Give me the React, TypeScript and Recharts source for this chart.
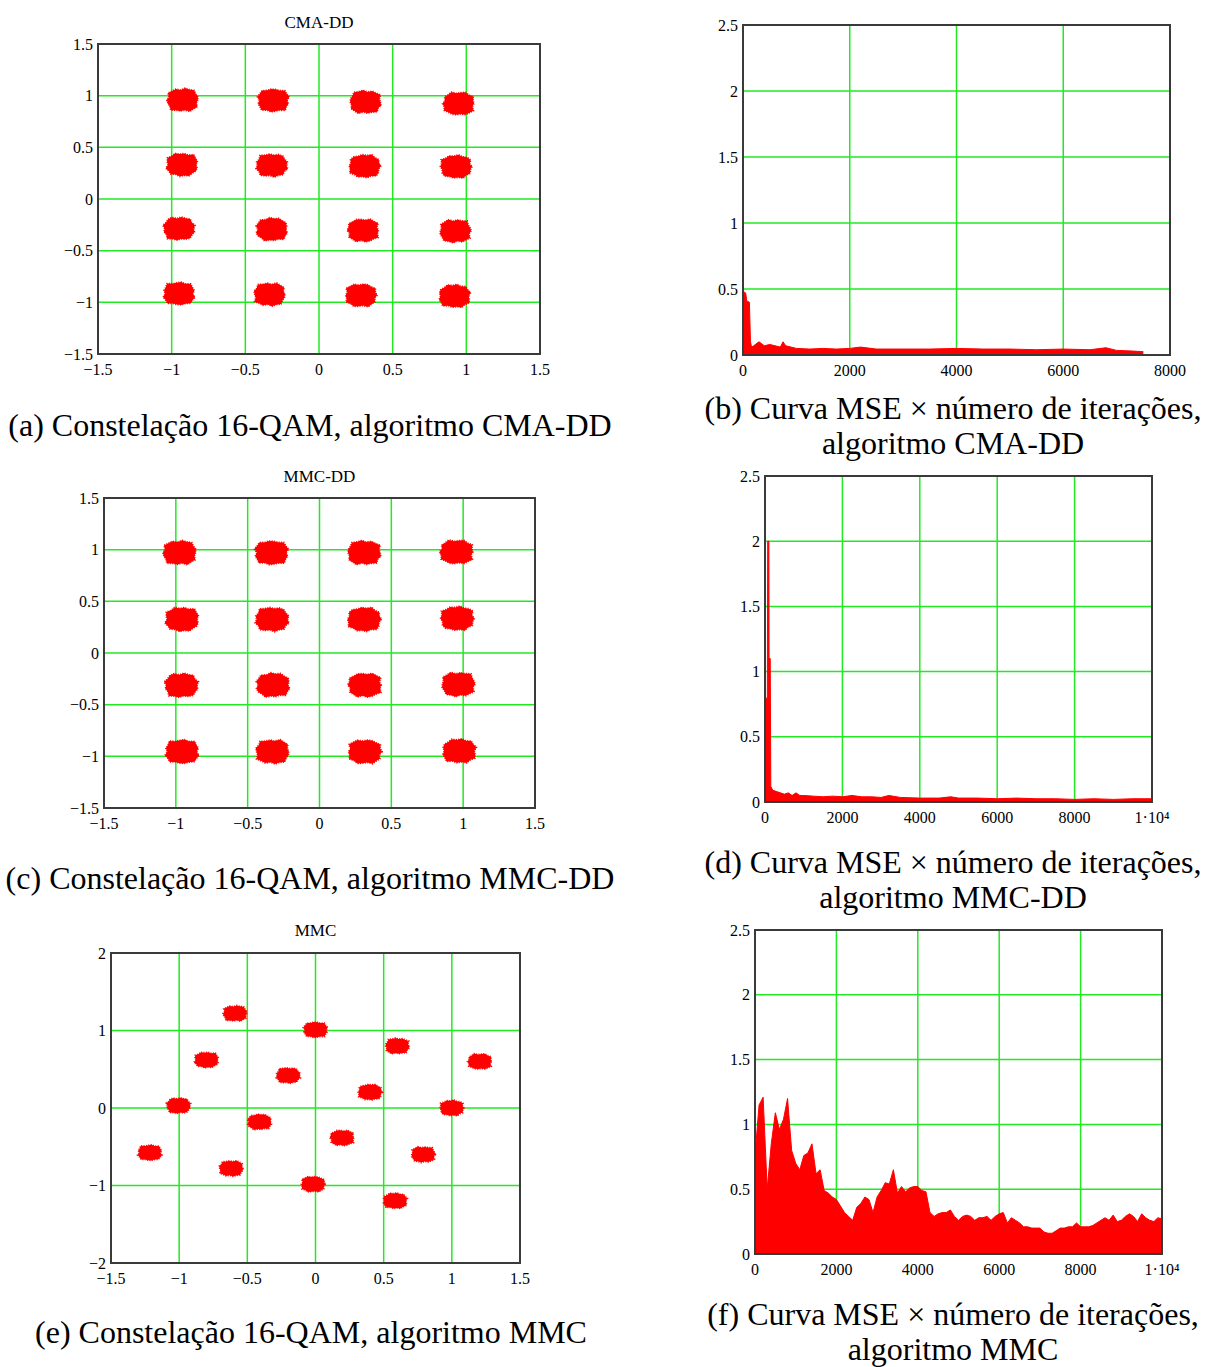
import React from "react";
import {
  Area,
  AreaChart,
  CartesianGrid,
  ReferenceArea,
  Scatter,
  ScatterChart,
  XAxis,
  YAxis,
} from "recharts";

const GREEN = "#22ea22";
const RED = "#ff0000";
const FRAME = "#3a3a3a";
const SERIF = '"Liberation Serif", "Times New Roman", serif';

// (a) CMA-DD constellation, cluster centres (I / Q)
const cmaDdI = [-0.925, -0.31, 0.315, 0.948, -0.93, -0.32, 0.31, 0.93, -0.95, -0.32, 0.3, 0.925, -0.95, -0.335, 0.285, 0.92];
const cmaDdQ = [0.958, 0.955, 0.939, 0.923, 0.332, 0.326, 0.319, 0.313, -0.287, -0.294, -0.303, -0.31, -0.916, -0.923, -0.932, -0.939];

// (c) MMC-DD constellation
const mmcDdI = [-0.973, -0.334, 0.311, 0.954, -0.957, -0.33, 0.311, 0.959, -0.961, -0.323, 0.316, 0.966, -0.957, -0.327, 0.316, 0.973];
const mmcDdQ = [0.971, 0.971, 0.971, 0.977, 0.326, 0.326, 0.326, 0.335, -0.313, -0.31, -0.31, -0.303, -0.955, -0.955, -0.955, -0.948];

// (e) MMC constellation (rotated)
const mmcI = [-0.59, 0.0, 0.6, 1.205, -0.8, -0.2, 0.4, 1.0, -1.005, -0.41, 0.195, 0.79, -1.215, -0.618, -0.017, 0.584];
const mmcQ = [1.22, 1.01, 0.8, 0.6, 0.62, 0.42, 0.205, 0.0, 0.03, -0.18, -0.385, -0.6, -0.577, -0.78, -0.983, -1.197];

const constTicks = [-1.5, -1, -0.5, 0, 0.5, 1, 1.5];
const constGrid = [-1, -0.5, 0, 0.5, 1];
const mmcYTicks = [-2, -1, 0, 1, 2];
const mmcYGrid = [-1, 0, 1];

// (b) MSE, CMA-DD
const cmaDdIter = [0, 10, 50, 70, 120, 140, 160, 200, 300, 400, 500, 600, 700, 750, 800, 900, 1000, 1250, 1500, 1750, 2000, 2200, 2500, 3000, 3500, 4000, 4500, 5000, 5500, 6000, 6500, 6800, 7000, 7300, 7500];
const cmaDdMse = [0.77, 0.48, 0.47, 0.41, 0.4, 0.1, 0.06, 0.07, 0.1, 0.07, 0.08, 0.07, 0.06, 0.1, 0.07, 0.06, 0.05, 0.045, 0.05, 0.045, 0.05, 0.06, 0.045, 0.045, 0.045, 0.05, 0.045, 0.045, 0.04, 0.045, 0.04, 0.055, 0.035, 0.03, 0.025];

// (d) MSE, MMC-DD
const mmcDdIter = [0, 60, 70, 100, 105, 135, 150, 200, 300, 400, 500, 600, 700, 800, 900, 1000, 1250, 1500, 1750, 2000, 2250, 2500, 2750, 3000, 3200, 3500, 4000, 4500, 4800, 5000, 5500, 6000, 6500, 7000, 7500, 8000, 8500, 9000, 9500, 10000];
const mmcDdMse = [0.79, 0.8, 2.0, 2.0, 1.1, 1.1, 0.12, 0.09, 0.08, 0.07, 0.06, 0.07, 0.05, 0.07, 0.05, 0.05, 0.045, 0.04, 0.045, 0.04, 0.05, 0.04, 0.04, 0.035, 0.05, 0.035, 0.03, 0.03, 0.04, 0.03, 0.03, 0.025, 0.03, 0.025, 0.025, 0.02, 0.025, 0.02, 0.025, 0.025];

// (f) MSE, MMC — one reading every 100 iterations
const MMC_STEP = 100;
const mmcMse = [
  0.76, 1.15, 1.21, 0.5, 0.85, 1.09, 0.96, 1.04, 1.2, 0.8,
  0.7, 0.65, 0.76, 0.78, 0.85, 0.62, 0.65, 0.49, 0.47, 0.44,
  0.42, 0.37, 0.32, 0.29, 0.26, 0.36, 0.39, 0.44, 0.42, 0.32,
  0.44, 0.49, 0.55, 0.54, 0.65, 0.47, 0.52, 0.48, 0.51, 0.52,
  0.52, 0.49, 0.48, 0.32, 0.29, 0.31, 0.32, 0.32, 0.34, 0.29,
  0.26, 0.29, 0.3, 0.29, 0.26, 0.28, 0.28, 0.29, 0.26, 0.29,
  0.31, 0.32, 0.24, 0.28, 0.26, 0.24, 0.21, 0.21, 0.2, 0.2,
  0.2, 0.17, 0.16, 0.16, 0.18, 0.2, 0.2, 0.21, 0.21, 0.24,
  0.21, 0.21, 0.21, 0.22, 0.24, 0.26, 0.28, 0.26, 0.3, 0.25,
  0.26, 0.29, 0.31, 0.29, 0.25, 0.31, 0.28, 0.26, 0.25, 0.28,
  0.27,
];

const mseYTicks = [0, 0.5, 1, 1.5, 2, 2.5];
const mseYGrid = [0.5, 1, 1.5, 2];
const iterTicks8k = [0, 2000, 4000, 6000, 8000];
const iterTicks10k = [0, 2000, 4000, 6000, 8000, 10000];

// jagged outline for the noisy symbol clouds
const JAG = [1, 0.93, 1.05, 0.97, 1.08, 0.92, 1.02, 0.96, 1.09, 0.94, 1.0, 1.06, 0.93, 1.07, 0.97, 1.03, 0.92, 1.08, 0.98, 1.04, 0.94, 1.02];

const makeBlob = (rx: number, ry: number) => (props: any) => {
  const { cx, cy, payload } = props;
  const k = payload?.k ?? 0;
  const n = JAG.length;
  const pts: string[] = [];
  for (let i = 0; i < n; i++) {
    const a = (i / n) * Math.PI * 2;
    const r = JAG[(i + k * 5) % n];
    // squarer cloud than an ellipse
    const c = Math.cos(a);
    const s = Math.sin(a);
    const sq = 1 / Math.pow(Math.pow(Math.abs(c), 3) + Math.pow(Math.abs(s), 3), 1 / 3);
    pts.push(`${(cx + c * rx * r * sq).toFixed(1)},${(cy + s * ry * r * sq).toFixed(1)}`);
  }
  return (
    <path
      d={`M${pts.join("L")}Z`}
      fill={RED}
      stroke={RED}
      strokeWidth={1.6}
      strokeDasharray="1 1.4"
    />
  );
};

const fmtTick = (v: number) => {
  if (v === 10000) return "1·10⁴";
  return String(v).replace("-", "−");
};

const PAD_L = 60;
const PAD_T = 30;
const PAD_R = 30;
const PAD_B = 32;

type Box = { x0: number; y0: number; x1: number; y1: number };

const tickStyle = { fontSize: 16, fill: "#000", fontFamily: SERIF };

function ConstellationPanel({
  box,
  title,
  titleY,
  xs,
  ys,
  yTicks,
  yGrid,
  rx,
  ry,
  rightGreen,
}: {
  box: Box;
  title: string;
  titleY: number;
  xs: number[];
  ys: number[];
  yTicks: number[];
  yGrid: number[];
  rx: number;
  ry: number;
  rightGreen?: boolean;
}) {
  const data = xs.map((x, i) => ({ x, y: ys[i], k: i }));
  const w = box.x1 - box.x0 + PAD_L + PAD_R;
  const h = box.y1 - box.y0 + PAD_T + PAD_B;
  const yMin = yTicks[0];
  const yMax = yTicks[yTicks.length - 1];
  return (
    <>
      <div
        style={{
          position: "absolute",
          left: box.x0,
          width: box.x1 - box.x0,
          top: titleY - 10,
          height: 20,
          lineHeight: "20px",
          textAlign: "center",
          fontFamily: SERIF,
          fontSize: 17,
        }}
      >
        {title}
      </div>
      <div style={{ position: "absolute", left: box.x0 - PAD_L, top: box.y0 - PAD_T }}>
        <ScatterChart
          width={w}
          height={h}
          margin={{ top: PAD_T, right: PAD_R, bottom: 0, left: 0 }}
        >
          <CartesianGrid
            stroke={GREEN}
            strokeWidth={1.5}
            verticalValues={rightGreen ? [...constGrid, 1.5] : constGrid}
            horizontalValues={yGrid}
          />
          <XAxis
            type="number"
            dataKey="x"
            domain={[-1.5, 1.5]}
            ticks={constTicks}
            interval={0}
            height={PAD_B}
            tickSize={0}
            tickMargin={10}
            tickLine={false}
            axisLine={false}
            tick={tickStyle}
            tickFormatter={fmtTick}
          />
          <YAxis
            type="number"
            dataKey="y"
            domain={[yMin, yMax]}
            ticks={yTicks}
            interval={0}
            width={PAD_L}
            tickSize={0}
            tickMargin={5}
            tickLine={false}
            axisLine={false}
            tick={tickStyle}
            tickFormatter={fmtTick}
          />
          <Scatter data={data} shape={makeBlob(rx, ry)} isAnimationActive={false} />
          <ReferenceArea
            x1={-1.5}
            x2={1.5}
            y1={yMin}
            y2={yMax}
            fill="none"
            fillOpacity={0}
            stroke={FRAME}
            strokeWidth={2}
            ifOverflow="visible"
          />
        </ScatterChart>
      </div>
    </>
  );
}

function MsePanel({
  box,
  iters,
  mse,
  xMax,
  xTicks,
  xGrid,
}: {
  box: Box;
  iters: number[];
  mse: number[];
  xMax: number;
  xTicks: number[];
  xGrid: number[];
}) {
  const data = iters.map((iter, i) => ({ iter, mse: mse[i] }));
  const w = box.x1 - box.x0 + PAD_L + PAD_R;
  const h = box.y1 - box.y0 + PAD_T + PAD_B;
  return (
    <div style={{ position: "absolute", left: box.x0 - PAD_L, top: box.y0 - PAD_T }}>
      <AreaChart
        width={w}
        height={h}
        data={data}
        margin={{ top: PAD_T, right: PAD_R, bottom: 0, left: 0 }}
      >
        <CartesianGrid
          stroke={GREEN}
          strokeWidth={1.5}
          verticalValues={xGrid}
          horizontalValues={mseYGrid}
        />
        <XAxis
          type="number"
          dataKey="iter"
          domain={[0, xMax]}
          ticks={xTicks}
          interval={0}
          height={PAD_B}
          tickSize={0}
          tickMargin={10}
          tickLine={false}
          axisLine={false}
          tick={tickStyle}
          tickFormatter={fmtTick}
        />
        <YAxis
          type="number"
          domain={[0, 2.5]}
          ticks={mseYTicks}
          interval={0}
          width={PAD_L}
          tickSize={0}
          tickMargin={5}
          tickLine={false}
          axisLine={false}
          tick={tickStyle}
          tickFormatter={fmtTick}
        />
        <Area
          type="linear"
          dataKey="mse"
          stroke={RED}
          strokeWidth={1}
          fill={RED}
          fillOpacity={1}
          dot={false}
          activeDot={false}
          isAnimationActive={false}
        />
        <ReferenceArea
          x1={0}
          x2={xMax}
          y1={0}
          y2={2.5}
          fill="none"
          fillOpacity={0}
          stroke={FRAME}
          strokeWidth={2}
          ifOverflow="visible"
        />
      </AreaChart>
    </div>
  );
}

// cy = centre of the first line
function Caption({ cx, cy, lines }: { cx: number; cy: number; lines: string[] }) {
  const lh = 35;
  return (
    <div
      style={{
        position: "absolute",
        left: cx - 310,
        width: 620,
        top: cy - lh / 2,
        textAlign: "center",
        fontFamily: SERIF,
        fontSize: 32,
        lineHeight: `${lh}px`,
        whiteSpace: "nowrap",
      }}
    >
      {lines.map((l) => (
        <div key={l}>{l}</div>
      ))}
    </div>
  );
}

export default function App() {
  const mmcIter = mmcMse.map((_, i) => i * MMC_STEP);
  return (
    <div
      style={{
        position: "absolute",
        left: 0,
        top: 0,
        width: 1205,
        height: 1367,
        background: "#fff",
        overflow: "hidden",
      }}
    >
      <ConstellationPanel
        box={{ x0: 98, y0: 44, x1: 540, y1: 354 }}
        title="CMA-DD"
        titleY={23}
        xs={cmaDdI}
        ys={cmaDdQ}
        yTicks={constTicks}
        yGrid={constGrid}
        rx={15}
        ry={11}
      />
      <MsePanel
        box={{ x0: 743, y0: 25, x1: 1170, y1: 355 }}
        iters={cmaDdIter}
        mse={cmaDdMse}
        xMax={8000}
        xTicks={iterTicks8k}
        xGrid={[2000, 4000, 6000, 8000]}
      />
      <Caption cx={310} cy={425} lines={["(a) Constelação 16-QAM, algoritmo CMA-DD"]} />
      <Caption cx={953} cy={408} lines={["(b) Curva MSE × número de iterações,", "algoritmo CMA-DD"]} />

      <ConstellationPanel
        box={{ x0: 104, y0: 498, x1: 535, y1: 808 }}
        title="MMC-DD"
        titleY={477}
        xs={mmcDdI}
        ys={mmcDdQ}
        yTicks={constTicks}
        yGrid={constGrid}
        rx={16}
        ry={11.5}
        rightGreen
      />
      <MsePanel
        box={{ x0: 765, y0: 476, x1: 1152, y1: 802 }}
        iters={mmcDdIter}
        mse={mmcDdMse}
        xMax={10000}
        xTicks={iterTicks10k}
        xGrid={[2000, 4000, 6000, 8000]}
      />
      <Caption cx={310} cy={878} lines={["(c) Constelação 16-QAM, algoritmo MMC-DD"]} />
      <Caption cx={953} cy={862} lines={["(d) Curva MSE × número de iterações,", "algoritmo MMC-DD"]} />

      <ConstellationPanel
        box={{ x0: 111, y0: 953, x1: 520, y1: 1263 }}
        title="MMC"
        titleY={931}
        xs={mmcI}
        ys={mmcQ}
        yTicks={mmcYTicks}
        yGrid={mmcYGrid}
        rx={11.5}
        ry={7.5}
      />
      <MsePanel
        box={{ x0: 755, y0: 930, x1: 1162, y1: 1254 }}
        iters={mmcIter}
        mse={mmcMse}
        xMax={10000}
        xTicks={iterTicks10k}
        xGrid={[2000, 4000, 6000, 8000, 10000]}
      />
      <Caption cx={311} cy={1332} lines={["(e) Constelação 16-QAM, algoritmo MMC"]} />
      <Caption cx={953} cy={1314} lines={["(f) Curva MSE × número de iterações,", "algoritmo MMC"]} />
    </div>
  );
}
